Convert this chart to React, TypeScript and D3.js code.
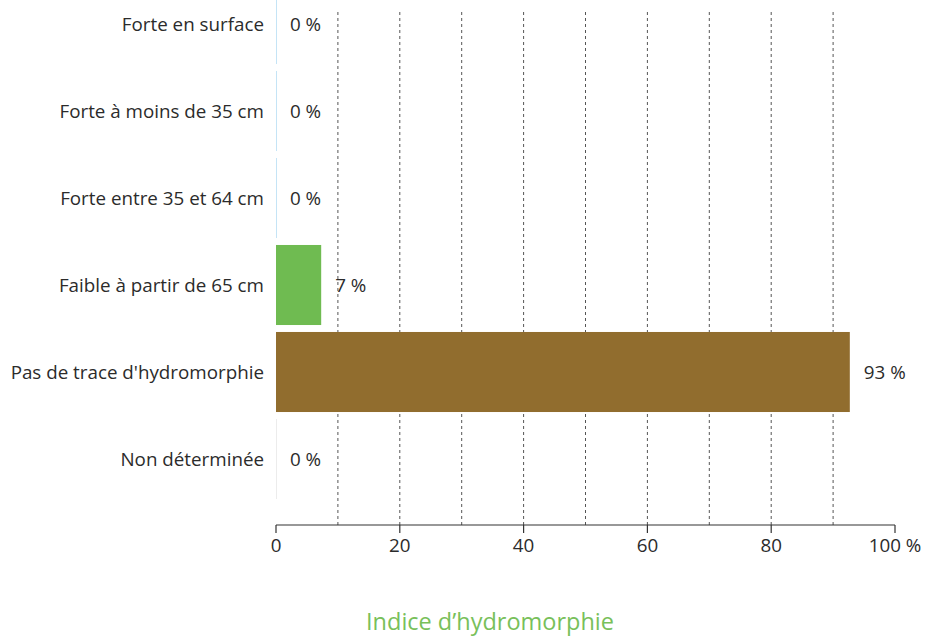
import React from 'react';
import * as d3 from 'd3';

// Indice d'hydromorphie — horizontal bars, share of samples per class.

const WIDTH = 933;
const HEIGHT = 636;

const CATEGORIES = [
  'Forte en surface',
  'Forte à moins de 35 cm',
  'Forte entre 35 et 64 cm',
  'Faible à partir de 65 cm',
  "Pas de trace d'hydromorphie",
  'Non déterminée',
];
const VALUES = [0, 0, 0, 7.3, 92.7, 0];
const LABELS = ['0 %', '0 %', '0 %', '7 %', '93 %', '0 %'];
const COLORS = ['#c5e4f6', '#c5e4f6', '#c5e4f6', '#6fbb51', '#916d2e', '#ececec'];
const TICKS = [0, 20, 40, 60, 80, 100];
const GRID = [10, 20, 30, 40, 50, 60, 70, 80, 90];
const TITLE = 'Indice d’hydromorphie';

const FONT = "'Open Sans', 'Noto Sans', sans-serif";
const FS = 18.8;

export default function App() {
  const x = d3.scaleLinear().domain([0, 100]).range([276, 895]);
  const y = d3
    .scaleBand<string>()
    .domain(CATEGORIES)
    .range([-19.5, 502.5])
    .paddingInner(0.08)
    .paddingOuter(0.04);
  const axisY = 525;

  return (
    <svg
      width={WIDTH}
      height={HEIGHT}
      style={{ position: 'absolute', left: 0, top: 0, display: 'block' }}
      fontFamily={FONT}
    >
      {/* dashed gridlines */}
      {GRID.map((g) => (
        <line
          key={`g-${g}`}
          x1={x(g)}
          x2={x(g)}
          y1={12}
          y2={axisY}
          stroke="#555"
          strokeWidth={1}
          strokeDasharray="3,3"
        />
      ))}

      {/* bars */}
      {CATEGORIES.map((c, i) => {
        const w = Math.max(1, x(VALUES[i]) - x(0));
        const by = y(c) ?? 0;
        return (
          <g key={c}>
            <rect x={x(0)} y={by} width={w} height={y.bandwidth()} fill={COLORS[i]} />
            <text
              x={x(0) - 12}
              y={by + y.bandwidth() / 2}
              dy="0.35em"
              textAnchor="end"
              fontSize={FS}
              fill="#2b2b2b"
            >
              {c}
            </text>
            <text
              x={x(VALUES[i]) + 14}
              y={by + y.bandwidth() / 2}
              dy="0.35em"
              fontSize={FS}
              fill="#2b2b2b"
            >
              {LABELS[i]}
            </text>
          </g>
        );
      })}

      {/* x axis */}
      <line x1={x(0)} x2={x(100)} y1={axisY} y2={axisY} stroke="#333" strokeWidth={1.2} />
      {TICKS.map((t) => (
        <g key={`t-${t}`}>
          <line x1={x(t)} x2={x(t)} y1={axisY} y2={axisY + 8} stroke="#333" strokeWidth={1.2} />
          <text
            x={x(t)}
            y={axisY + 27}
            textAnchor="middle"
            fontSize={FS}
            fill="#2b2b2b"
          >
            {t === 100 ? '100 %' : t}
          </text>
        </g>
      ))}

      <text x={490} y={630} textAnchor="middle" fontSize={23.5} fill="#78c05a">
        {TITLE}
      </text>
    </svg>
  );
}
